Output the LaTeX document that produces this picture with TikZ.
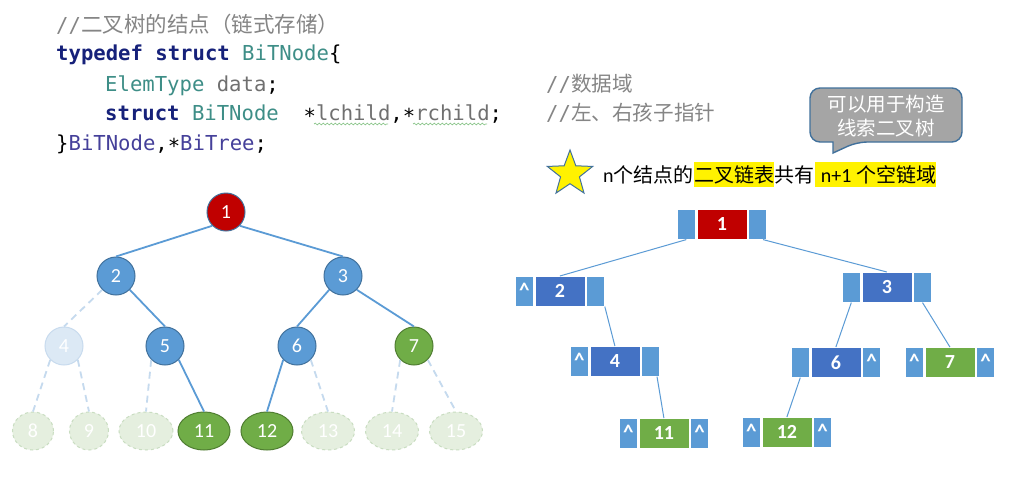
\documentclass[tikz,border=0pt]{standalone}
\usepackage{fontspec}
\setmainfont{Carlito}
\newfontfamily\cjk{Noto Sans CJK SC}
\newfontfamily\codefont{DejaVu Sans Mono}
\usetikzlibrary{shapes.geometric,calc,decorations.pathmorphing}
\definecolor{kwnavy}{HTML}{16217A}
\definecolor{tealc}{HTML}{3E8E87}
\definecolor{grayc}{HTML}{707070}
\definecolor{commc}{HTML}{858585}
\definecolor{purpc}{HTML}{45409A}
\definecolor{redc}{HTML}{C00000}
\definecolor{bluec}{HTML}{5B9BD5}
\definecolor{dblue}{HTML}{4472C4}
\definecolor{greenc}{HTML}{70AD47}
\definecolor{outb}{HTML}{41719C}
\definecolor{outg}{HTML}{507E32}
\definecolor{fadebf}{HTML}{DCE9F5}
\definecolor{fadebd}{HTML}{C8DBEE}
\definecolor{fadegf}{HTML}{E5EFDF}
\definecolor{fadegd}{HTML}{C9DDC1}
\definecolor{dashc}{HTML}{C5DAEE}
\definecolor{callgray}{HTML}{A5A5A5}
\definecolor{squig}{HTML}{8CC68C}
\newcommand\rtnode[7]{%
  \node[ptrbox, anchor=north west] (#1-l) at (#2,#3) {#6};
  \node[databox, fill=#4, anchor=north west] (#1-d) at ([xshift=1pt]#1-l.north east) {#5};
  \node[ptrbox, anchor=north west] (#1-r) at ([xshift=1pt]#1-d.north east) {#7};
}
\newcommand\crt{\raisebox{1pt}{\textasciicircum}}
\newcommand\codeast{\raisebox{-0.18em}{*}}
\begin{document}
\begin{tikzpicture}[x=1pt,y=-1pt,
  codeline/.style={anchor=base west, inner sep=0pt, font=\codefont\fontsize{20.6}{24}\selectfont},
  tn/.style={circle, minimum size=38pt, inner sep=0pt, line width=1pt, text=white, font=\fontsize{20}{20}\selectfont},
  lf/.style={ellipse, minimum height=38pt, inner sep=0pt, line width=1pt, text=white, font=\fontsize{20}{20}\selectfont},
  redn/.style={fill=redc, draw=outb},
  bluen/.style={fill=bluec, draw=outb},
  greenn/.style={fill=greenc, draw=outg},
  fadeb/.style={fill=fadebf, draw=fadebd},
  fadeg/.style={fill=fadegf, draw=fadegd, dashed},
  sedge/.style={draw=bluec, line width=1.8pt},
  dedge/.style={draw=dashc, line width=1.8pt, dash pattern=on 7pt off 5pt},
  ptrbox/.style={rectangle, minimum width=18pt, minimum height=30pt, inner sep=0pt, fill=bluec, draw=white, line width=0.6pt, text=white, font=\bfseries\fontsize{21}{21}\selectfont},
  databox/.style={rectangle, minimum width=50pt, minimum height=30pt, inner sep=0pt, draw=white, line width=0.6pt, text=white, font=\bfseries\fontsize{20}{20}\selectfont},
  redge/.style={draw=bluec, line width=1pt},
  txt/.style={anchor=base west, inner sep=0pt, font=\fontsize{20}{20}\selectfont},
  hl/.style={fill=yellow, inner ysep=3pt},
  sq/.style={draw=squig, line width=0.7pt, decorate, decoration={snake, amplitude=0.9pt, segment length=4pt}}
]
\fill[white] (0,0) rectangle (1012,477);
\useasboundingbox (0,0) rectangle (1012,477);

% ---- code ----
\node[codeline] (c1) at (56,32) {\color{commc}//{\cjk\fontsize{21.5}{24}\selectfont 二叉树的结点（链式存储）}};
\node[codeline] (c2) at (56,60) {{\bfseries\color{kwnavy}typedef struct} {\color{tealc}BiTNode}\{};
\node[codeline] (c3) at (105,91) {{\color{tealc}ElemType} {\color{grayc}data};};
\node[codeline] (c4) at (105,120) {{\bfseries\color{kwnavy}struct} {\color{tealc}BiTNode}\ \ \codeast{\color{grayc}lchild},\codeast{\color{grayc}rchild};};
\node[codeline] (c5) at (56,150) {\}{\color{purpc}BiTNode},\codeast{\color{purpc}BiTree};};
\node[codeline] (c6) at (546,91) {\color{commc}//{\cjk 数据域}};
\node[codeline] (c7) at (546,120) {\color{commc}//{\cjk 左、右孩子指针}};
\coordinate (q1) at (314,124);
\coordinate (q2) at (388,124);
\coordinate (q3) at (413,124);
\coordinate (q4) at (487,124);
\draw[sq] (q1) -- (q2);
\draw[sq] (q3) -- (q4);

% ---- callout ----
\draw[fill=callgray, draw=outb, line width=1.4pt] (822,142) [rounded corners=10pt] -- (810,142) -- (810,88) -- (962,88) -- (962,142) -- (857,142) [sharp corners] -- (833,153) -- (833,142) -- cycle;
\node[align=center, text=white, inner sep=0pt, font=\cjk\fontsize{19.5}{23.5}\selectfont] (call) at (886,116) {可以用于构造\\线索二叉树};

% ---- star line ----
\node[star, star points=5, star point ratio=2.4, minimum size=47.6pt, inner sep=0pt, fill=yellow, draw=outb, line width=1pt] (star) at (570,173.8) {};
\node[txt] (s1) at (603,182) {n{\cjk 个结点的}};
\node[txt, hl] (s2) at (s1.base east) {{\cjk 二叉链表}};
\node[txt] (s3) at (s2.base east) {{\cjk 共有}};
\node[txt, hl] (s4) at (s3.base east) {\hspace{6pt}n+1 {\cjk 个空链域}};

% ---- left tree ----
\node[tn,redn] (L1) at (226,212) {1};
\node[tn,bluen] (L2) at (116,276) {2};
\node[tn,bluen] (L3) at (343,276) {3};
\node[tn,fadeb] (L4) at (64,346) {4};
\node[tn,bluen] (L5) at (165,346) {5};
\node[tn,bluen] (L6) at (297,346) {6};
\node[tn,greenn] (L7) at (414,346) {7};
\node[lf,fadeg,minimum width=41pt] (L8) at (33,431) {8};
\node[lf,fadeg,minimum width=39pt] (L9) at (89,431) {9};
\node[lf,fadeg,minimum width=54pt] (L10) at (146,431) {10};
\node[lf,greenn,minimum width=52pt] (L11) at (204,431) {11};
\node[lf,greenn,minimum width=52pt] (L12) at (267,431) {12};
\node[lf,fadeg,minimum width=53pt] (L13) at (328,431) {13};
\node[lf,fadeg,minimum width=53pt] (L14) at (392,431) {14};
\node[lf,fadeg,minimum width=53pt] (L15) at (456,431) {15};
\draw[sedge] (L1.south west) -- (L2.north);
\draw[sedge] (L1.south east) -- (L3.north);
\draw[dedge] (L2.south west) -- (L4.north);
\draw[sedge] (L2.south east) -- (L5.north);
\draw[sedge] (L3.south west) -- (L6.north);
\draw[sedge] (L3.south east) -- (L7.north);
\draw[dedge] (L4.south west) -- (L8.north);
\draw[dedge] (L4.south east) -- (L9.north);
\draw[dedge] (L5.south west) -- (L10.north);
\draw[sedge] (L5.south east) -- (L11.north);
\draw[sedge] (L6.south west) -- (L12.north);
\draw[dedge] (L6.south east) -- (L13.north);
\draw[dedge] (L7.south west) -- (L14.north);
\draw[dedge] (L7.south east) -- (L15.north);

% ---- right tree ----
\rtnode{R1}{677}{209}{redc}{1}{}{}
\rtnode{R2}{515}{276}{dblue}{2}{\crt}{}
\rtnode{R3}{842}{272}{dblue}{3}{}{}
\rtnode{R4}{570}{346}{dblue}{4}{\crt}{}
\rtnode{R6}{791}{347}{dblue}{6}{}{\crt}
\rtnode{R7}{905}{347}{greenc}{7}{\crt}{\crt}
\rtnode{R11}{619}{418}{greenc}{11}{\crt}{\crt}
\rtnode{R12}{742}{417}{greenc}{12}{\crt}{\crt}
\draw[redge] (R1-l.south) -- (R2-d.north);
\draw[redge] ($(R1-r.south)!0.6!(R1-r.south east)$) -- (R3-d.north);
\draw[redge] (R2-r.south east) -- (R4-d.north);
\draw[redge] ($(R4-r.south)!0.7!(R4-r.south east)$) -- (R11-d.north);
\draw[redge] (R3-l.south) -- (R6-d.north);
\draw[redge] (R3-r.south) -- (R7-d.north);
\draw[redge] (R6-l.south) -- (R12-d.north);
\end{tikzpicture}
\end{document}
